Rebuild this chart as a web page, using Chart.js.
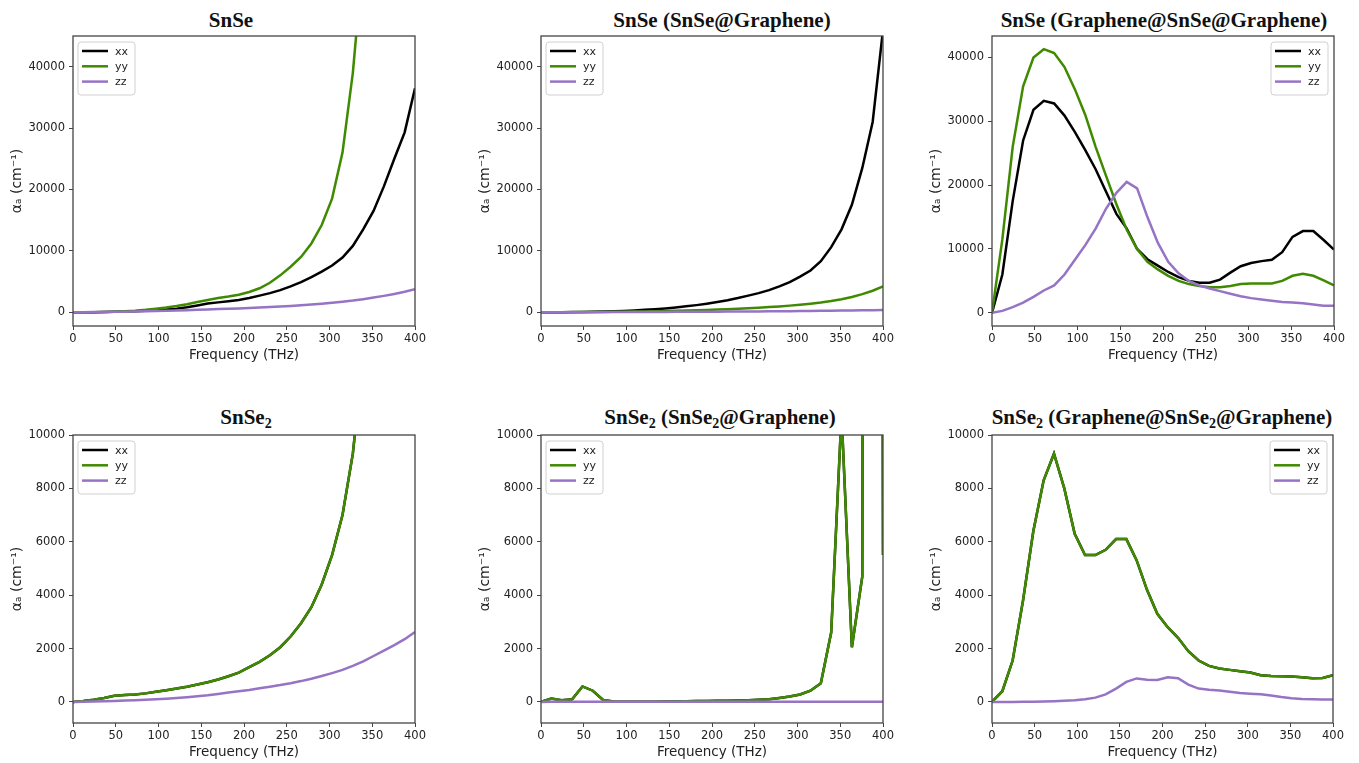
<!DOCTYPE html>
<html>
<head>
<meta charset="utf-8">
<script src="https://cdn.jsdelivr.net/npm/chart.js@4.4.1/dist/chart.umd.min.js"></script>
<style>
body { margin: 0; background: #fff; width: 1359px; height: 763px; position: relative; overflow: hidden; }
canvas { position: absolute; }
.title { position: absolute; font-family: "Liberation Serif", "Times New Roman", serif; font-weight: bold; font-size: 21px; line-height: 24px; color: #111; white-space: nowrap; transform: translateX(-50%); }
.title sub { font-size: 14px; line-height: 0; vertical-align: -4px; }
</style>
</head>
<body>

<div class="title" style="left:231px; top:8px;">SnSe</div>
<div class="title" style="left:722px; top:8px;">SnSe (SnSe@Graphene)</div>
<div class="title" style="left:1164px; top:8px;">SnSe (Graphene@SnSe@Graphene)</div>
<div class="title" style="left:246px; top:405px;">SnSe<sub>2</sub></div>
<div class="title" style="left:720px; top:405px;">SnSe<sub>2</sub> (SnSe<sub>2</sub>@Graphene)</div>
<div class="title" style="left:1162px; top:405px;">SnSe<sub>2</sub> (Graphene@SnSe<sub>2</sub>@Graphene)</div>

<canvas id="c1"></canvas>
<canvas id="c2"></canvas>
<canvas id="c3"></canvas>
<canvas id="c4"></canvas>
<canvas id="c5"></canvas>
<canvas id="c6"></canvas>

<script>
// Frequency grid (THz), shared by every panel
const freq = [0, 12.1, 24.2, 36.4, 48.5, 60.6, 72.7, 84.8, 97, 109.1, 121.2, 133.3, 145.5, 157.6, 169.7, 181.8, 193.9,
    206.1, 218.2, 230.3, 242.4, 254.5, 266.7, 278.8, 290.9, 303, 315.2, 327.3, 339.4, 351.5, 363.6, 375.8, 387.9, 400];

const x_ticks = [0, 50, 100, 150, 200, 250, 300, 350, 400];
const y_ticks_snse = [0, 10000, 20000, 30000, 40000];
const y_ticks_snse2 = [0, 2000, 4000, 6000, 8000, 10000];

// SnSe
const snse_xx = [0, 0, 10, 30, 60, 100, 150, 220, 330, 430, 580, 800, 1100, 1400, 1600, 1800, 2000,
    2300, 2700, 3100, 3600, 4200, 4900, 5700, 6600, 7600, 8900, 10800, 13500, 16500, 20500, 25000, 29300, 36500];
const snse_yy = [0, 0, 10, 40, 90, 160, 250, 380, 550, 750, 1000, 1300, 1650, 2000, 2300, 2550, 2850,
    3300, 3900, 4800, 6000, 7400, 9000, 11200, 14200, 18500, 26000, 39000, 58000, 80000, 100000, 120000, 140000, 160000];
const snse_zz = [0, 10, 20, 40, 60, 90, 120, 150, 190, 230, 280, 330, 380, 440, 500, 560, 620,
    690, 760, 840, 920, 1010, 1120, 1240, 1380, 1530, 1700, 1890, 2120, 2380, 2660, 2980, 3330, 3750];

// SnSe (SnSe@Graphene)
const snse_g_xx = [0, 0, 5, 15, 30, 60, 100, 150, 210, 290, 380, 490, 620, 780, 950, 1150, 1380,
    1650, 1950, 2300, 2700, 3100, 3600, 4200, 4900, 5800, 6800, 8300, 10600, 13500, 17500, 23500, 31000, 46000];
const snse_g_yy = [0, 0, 5, 10, 20, 30, 45, 60, 80, 100, 130, 160, 190, 230, 270, 320, 370,
    430, 490, 560, 640, 730, 830, 940, 1070, 1210, 1380, 1580, 1820, 2120, 2480, 2950, 3500, 4200];
const snse_g_zz = [0, 0, 5, 5, 10, 10, 15, 20, 25, 30, 35, 40, 50, 55, 60, 70, 75,
    85, 95, 105, 115, 125, 140, 155, 170, 185, 200, 220, 240, 260, 280, 300, 320, 340];

// SnSe (Graphene@SnSe@Graphene)
const snse_gg_xx = [0, 6000, 17500, 27000, 31800, 33200, 32800, 30900, 28300, 25500, 22500, 19000, 15500, 13200, 10000, 8400, 7400,
    6400, 5600, 5000, 4700, 4700, 5200, 6300, 7300, 7800, 8100, 8300, 9500, 11900, 12800, 12800, 11400, 9900];
const snse_gg_yy = [0, 11500, 26000, 35500, 40000, 41300, 40700, 38500, 35000, 31000, 26000, 21500, 17000, 13000, 10000, 8000, 6800,
    5800, 5000, 4500, 4200, 4000, 4000, 4200, 4500, 4600, 4600, 4600, 5000, 5800, 6100, 5800, 5100, 4300];
const snse_gg_zz = [0, 300, 900, 1600, 2500, 3500, 4300, 6000, 8300, 10600, 13200, 16300, 18800, 20500, 19500, 15000, 11000,
    8000, 6200, 5000, 4300, 3800, 3400, 3000, 2600, 2300, 2100, 1900, 1700, 1600, 1500, 1300, 1100, 1100];

// SnSe2
const snse2_xx = [0, 30, 80, 150, 230, 260, 280, 320, 380, 440, 500, 570, 650, 740, 840, 960, 1100,
    1300, 1500, 1750, 2050, 2450, 2950, 3550, 4400, 5500, 7000, 9300, 13000, 18000, 24000, 31000, 39000, 48000];
const snse2_yy = [0, 30, 80, 150, 230, 260, 280, 320, 380, 440, 500, 570, 650, 740, 840, 960, 1100,
    1300, 1500, 1750, 2050, 2450, 2950, 3550, 4400, 5500, 7000, 9300, 13000, 18000, 24000, 31000, 39000, 48000];
const snse2_zz = [0, 5, 15, 25, 35, 50, 65, 80, 100, 120, 145, 175, 210, 250, 300, 350, 400,
    450, 510, 570, 630, 700, 780, 870, 970, 1080, 1200, 1350, 1520, 1720, 1920, 2130, 2350, 2620];

// SnSe2 (SnSe2@Graphene)
const snse2_g_xx = [0, 130, 60, 100, 580, 420, 70, 20, 10, 10, 10, 10, 15, 20, 25, 30, 35,
    40, 45, 55, 65, 80, 100, 150, 200, 280, 420, 700, 2600, 10800, 2050, 4700, 200000, 5500];
const snse2_g_yy = [0, 130, 60, 100, 580, 420, 70, 20, 10, 10, 10, 10, 15, 20, 25, 30, 35,
    40, 45, 55, 65, 80, 100, 150, 200, 280, 420, 700, 2600, 10800, 2050, 4700, 200000, 5500];
const snse2_g_zz = [0, 5, 5, 5, 5, 5, 5, 5, 5, 5, 5, 5, 5, 5, 5, 5, 5,
    5, 5, 5, 5, 5, 5, 5, 5, 5, 5, 5, 5, 5, 5, 5, 5, 5];

// SnSe2 (Graphene@SnSe2@Graphene)
const snse2_gg_xx = [0, 400, 1550, 3800, 6400, 8300, 9300, 8000, 6300, 5500, 5500, 5700, 6100, 6100, 5300, 4200, 3300,
    2800, 2400, 1900, 1550, 1350, 1250, 1200, 1150, 1100, 1000, 970, 960, 950, 920, 890, 900, 1000];
const snse2_gg_yy = [0, 400, 1550, 3800, 6400, 8300, 9300, 8000, 6300, 5500, 5500, 5700, 6100, 6100, 5300, 4200, 3300,
    2800, 2400, 1900, 1550, 1350, 1250, 1200, 1150, 1100, 1000, 970, 960, 950, 920, 890, 900, 1000];
const snse2_gg_zz = [0, 0, 0, 5, 10, 15, 25, 40, 60, 100, 160, 280, 500, 750, 880, 830, 820,
    920, 890, 650, 500, 460, 430, 380, 330, 310, 290, 240, 180, 140, 110, 100, 90, 90];

const black = '#000000';
const green = '#3f8a00';
const purple = '#9673c4';

const tick_font = { family: 'DejaVu Sans', size: 11.5 };
const label_font = { family: 'DejaVu Sans', size: 13.5 };


// Box around the plotting area
const frame = {
    id: 'frame',
    afterDatasetsDraw(chart) {
        const a = chart.chartArea;
        const c = chart.ctx;
        c.save();
        c.strokeStyle = '#444';
        c.lineWidth = 1.3;
        c.strokeRect(a.left, a.top, a.right - a.left, a.bottom - a.top);
        c.restore();
    }
};

// Legend drawn inside the plotting area
const inner_legend = {
    id: 'innerLegend',
    afterDraw(chart, args, opts) {
        const a = chart.chartArea;
        const c = chart.ctx;
        const w = 57, h = 53;
        const x0 = opts.side === 'right' ? a.right - 6 - w : a.left + 5;
        const y0 = a.top + 6;
        c.save();
        c.beginPath();
        c.roundRect(x0, y0, w, h, 3);
        c.fillStyle = 'rgba(255,255,255,0.85)';
        c.fill();
        c.strokeStyle = '#d0d0d0';
        c.lineWidth = 1;
        c.stroke();
        chart.data.datasets.forEach((ds, i) => {
            const y = y0 + 9 + i * 15.3;
            c.beginPath();
            c.moveTo(x0 + 4, y);
            c.lineTo(x0 + 30, y);
            c.strokeStyle = ds.borderColor;
            c.lineWidth = 2.5;
            c.stroke();
            c.fillStyle = '#222';
            c.font = '11px "DejaVu Sans"';
            c.textBaseline = 'middle';
            c.fillText(ds.label, x0 + 37, y + 1);
        });
        c.restore();
    }
};


function series(label, values, color, order) {
    return {
        label: label,
        data: freq.map((f, i) => ({ x: f, y: values[i] })),
        borderColor: color,
        backgroundColor: color,
        borderWidth: 2.5,
        pointRadius: 0,
        tension: 0,
        order: order,
        clip: 0
    };
}


function make_chart(canvas_id, plot_left, plot_top, plot_w, plot_h, y_min, y_max, y_ticks, xx, yy, zz, legend_side) {

    // Place the canvas so the plot area lands where it is in the figure
    const canvas = document.getElementById(canvas_id);
    canvas.width = 72 + plot_w + 14;
    canvas.height = 36 + plot_h + 42;
    canvas.style.left = (plot_left - 72) + 'px';
    canvas.style.top = (plot_top - 36) + 'px';

    new Chart(canvas, {
        type: 'line',
        data: {
            datasets: [
                series('xx', xx, black, 3),
                series('yy', yy, green, 2),
                series('zz', zz, purple, 1)
            ]
        },
        options: {
            responsive: false,
            animation: false,
            layout: { padding: { left: 0, right: 14, top: 36, bottom: 0 } },
            plugins: {
                legend: { display: false },
                tooltip: { enabled: false },
                innerLegend: { side: legend_side }
            },
            scales: {
                x: {
                    type: 'linear',
                    min: 0,
                    max: 400,
                    afterBuildTicks: scale => { scale.ticks = x_ticks.map(v => ({ value: v })); },
                    afterFit: scale => { scale.height = 42; },
                    grid: { drawOnChartArea: false, drawTicks: true, tickLength: 4, color: '#444' },
                    border: { display: false },
                    ticks: { font: tick_font, color: '#222', padding: 2, maxRotation: 0, autoSkip: false },
                    title: { display: true, text: 'Frequency (THz)', font: label_font, color: '#222', padding: { top: 0, bottom: 4 } }
                },
                y: {
                    type: 'linear',
                    min: y_min,
                    max: y_max,
                    afterBuildTicks: scale => { scale.ticks = y_ticks.map(v => ({ value: v })); },
                    afterFit: scale => { scale.width = 72; },
                    grid: { drawOnChartArea: false, drawTicks: true, tickLength: 4, color: '#444' },
                    border: { display: false },
                    ticks: { font: tick_font, color: '#222', padding: 4, autoSkip: false, callback: v => String(v) },
                    title: { display: true, text: 'αₐ (cm⁻¹)', font: { family: 'DejaVu Sans', size: 14 }, color: '#222', padding: { top: 8, bottom: 0 } }
                }
            }
        },
        plugins: [frame, inner_legend]
    });
}


document.addEventListener('DOMContentLoaded', () => {
    make_chart('c1', 73, 36, 342, 290, -2250, 45000, y_ticks_snse, snse_xx, snse_yy, snse_zz, 'left');
    make_chart('c2', 541, 36, 342, 290, -2250, 45000, y_ticks_snse, snse_g_xx, snse_g_yy, snse_g_zz, 'left');
    make_chart('c3', 992, 36, 342, 290, -2065, 43365, y_ticks_snse, snse_gg_xx, snse_gg_yy, snse_gg_zz, 'right');
    make_chart('c4', 73, 435, 342, 288, -790, 10000, y_ticks_snse2, snse2_xx, snse2_yy, snse2_zz, 'left');
    make_chart('c5', 541, 435, 342, 288, -790, 10000, y_ticks_snse2, snse2_g_xx, snse2_g_yy, snse2_g_zz, 'left');
    make_chart('c6', 992, 435, 341, 288, -790, 10000, y_ticks_snse2, snse2_gg_xx, snse2_gg_yy, snse2_gg_zz, 'right');
});
</script>
</body>
</html>
